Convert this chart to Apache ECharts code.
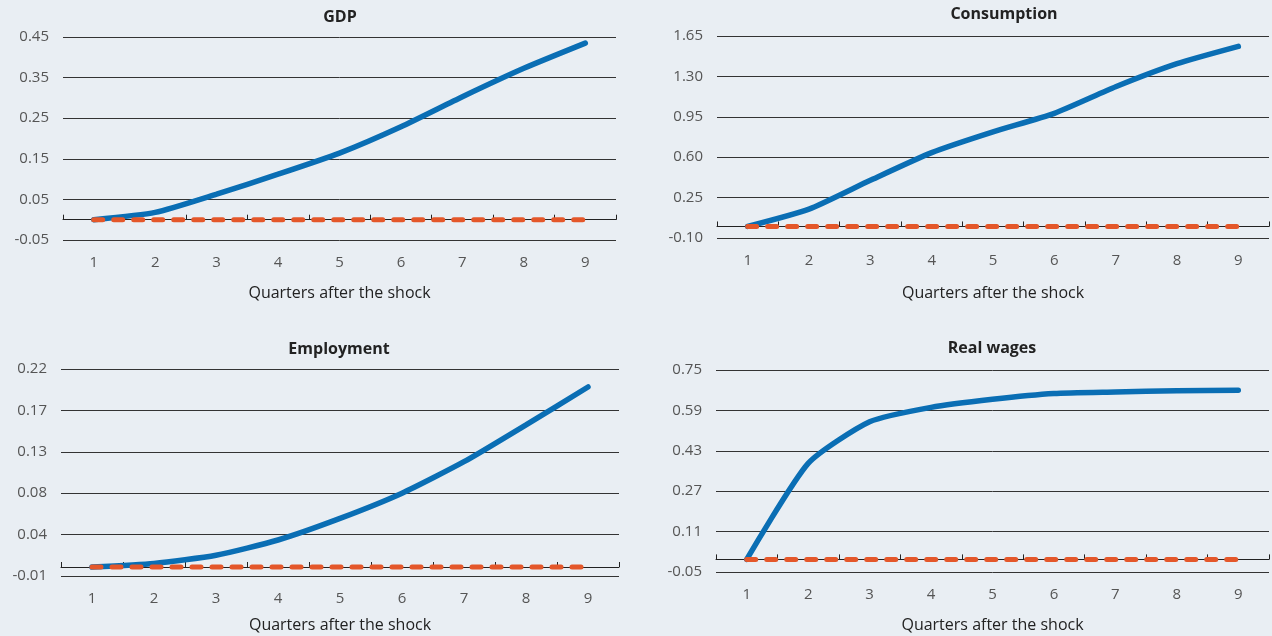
<!DOCTYPE html>
<html>
<head>
<meta charset="utf-8">
<title>Responses after the shock</title>
<script src="https://cdn.jsdelivr.net/npm/echarts@6/dist/echarts.min.js"></script>
<style>
    html, body { margin: 0; padding: 0; background: #e9eef3; }
    #main { width: 1272px; height: 636px; }
</style>
</head>
<body>
<div id="main"></div>
<script>
// quarters after the shock
var quarters = ["1", "2", "3", "4", "5", "6", "7", "8", "9"];

// blue line: response of each variable
var gdp = [0, 0.018, 0.063, 0.112, 0.164, 0.229, 0.303, 0.373, 0.435];
var consumption = [0, 0.15, 0.40, 0.64, 0.82, 0.98, 1.21, 1.41, 1.56];
var employment = [0, 0.004, 0.013, 0.030, 0.054, 0.082, 0.117, 0.158, 0.200];
var realWages = [0, 0.38, 0.545, 0.602, 0.634, 0.657, 0.663, 0.668, 0.670];

// orange dashed line
var baseline = [0, 0, 0, 0, 0, 0, 0, 0, 0];

// y axis: min, max, step
var gdpScale = [-0.05, 0.45, 0.1];
var consumptionScale = [-0.10, 1.65, 0.35];
var employmentScale = [-0.01, 0.22, 0.046];
var realWagesScale = [-0.05, 0.75, 0.16];

var titles = ["GDP", "Consumption", "Employment", "Real wages"];
var xName = "Quarters after the shock";

function buildChart() {
    var chart = echarts.init(document.getElementById("main"));
    var font = "'Open Sans', 'Noto Sans', sans-serif";
    var panels = [
        { title: titles[0], data: gdp, scale: gdpScale, grid: { left: 63, top: 37, width: 553, height: 203 }, tx: 340, ty: 9, gap: 45 },
        { title: titles[1], data: consumption, scale: consumptionScale, grid: { left: 717, top: 36, width: 552, height: 202 }, tx: 1004, ty: 6, gap: 47 },
        { title: titles[2], data: employment, scale: employmentScale, grid: { left: 61, top: 369, width: 558, height: 207 }, tx: 339, ty: 341, gap: 41 },
        { title: titles[3], data: realWages, scale: realWagesScale, grid: { left: 716, top: 370, width: 553, height: 202 }, tx: 992, ty: 340, gap: 45 }
    ];

    var option = {
        backgroundColor: "#e9eef3",
        animation: false,
        title: [],
        grid: [],
        xAxis: [],
        yAxis: [],
        series: []
    };

    panels.forEach(function (p, i) {
        option.title.push({
            text: p.title,
            left: p.tx,
            top: p.ty,
            textAlign: "center",
            padding: 0,
            textStyle: { fontFamily: font, fontSize: 16, fontWeight: "bold", color: "#222" }
        });
        option.grid.push(p.grid);

        // labels at the bottom of the plot
        option.xAxis.push({
            type: "category",
            gridIndex: i,
            data: quarters,
            position: "bottom",
            axisLine: { show: false, onZero: false },
            axisTick: { show: false },
            axisLabel: { margin: 15, fontFamily: font, fontSize: 15, color: "#555" },
            name: xName,
            nameLocation: "middle",
            nameGap: p.gap,
            nameTextStyle: { fontFamily: font, fontSize: 16, color: "#222" }
        });
        // the zero line with its ticks
        option.xAxis.push({
            type: "category",
            gridIndex: i,
            data: quarters,
            position: "top",
            axisLine: { show: true, onZero: true, lineStyle: { color: "#222", width: 1 } },
            axisTick: { show: true, inside: false, length: 5, lineStyle: { color: "#222" } },
            axisLabel: { show: false }
        });

        option.yAxis.push({
            type: "value",
            gridIndex: i,
            min: p.scale[0],
            max: p.scale[1],
            interval: p.scale[2],
            axisLine: { show: false },
            axisTick: { show: false },
            splitLine: { lineStyle: { color: "#333", width: 1 } },
            axisLabel: {
                margin: 14,
                fontFamily: font,
                fontSize: 15,
                color: "#555",
                formatter: function (v) { return v.toFixed(2); }
            }
        });

        option.series.push({
            type: "line",
            xAxisIndex: i * 2 + 1,
            yAxisIndex: i,
            data: p.data,
            symbol: "none",
            smooth: 0.2,
            lineStyle: { color: "#0a6eb4", width: 5.5, cap: "round" },
            z: 3
        });
        option.series.push({
            type: "line",
            xAxisIndex: i * 2 + 1,
            yAxisIndex: i,
            data: baseline,
            symbol: "none",
            lineStyle: { color: "#e4572a", width: 5, type: [9, 11], cap: "round" },
            z: 4
        });
    });

    chart.setOption(option);
}

buildChart();
</script>
</body>
</html>
